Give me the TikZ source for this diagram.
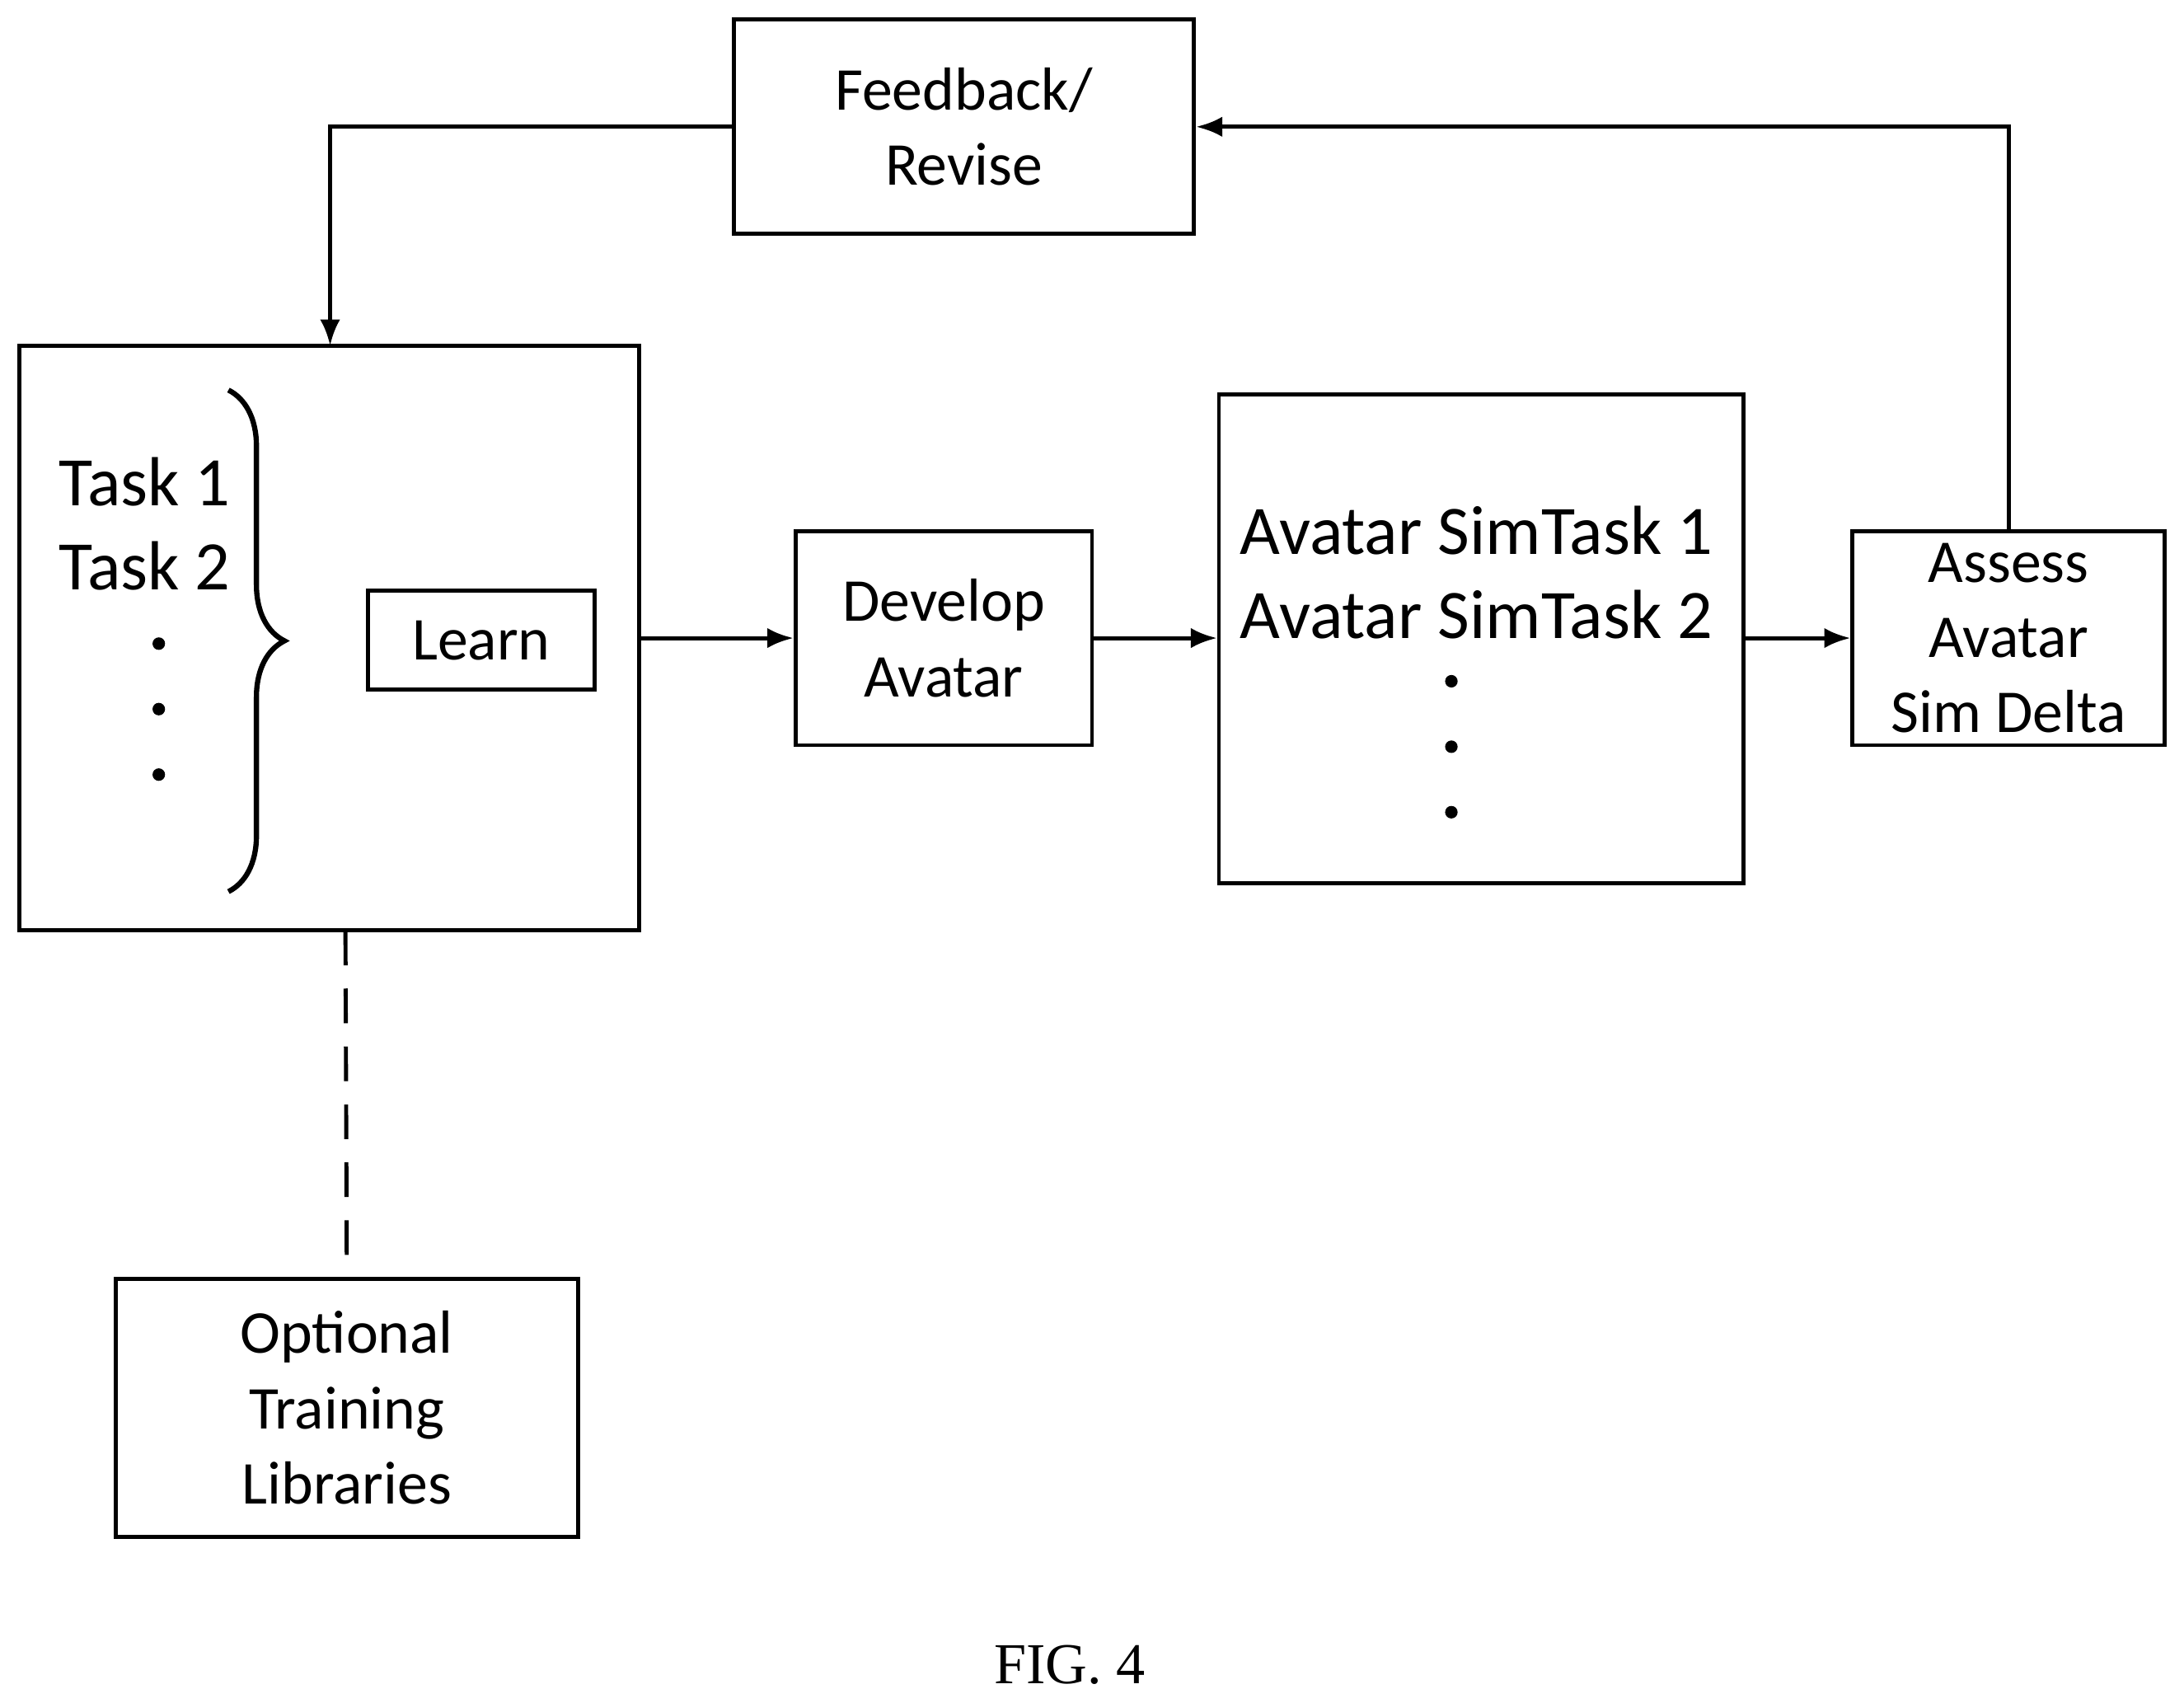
\documentclass[tikz,border=0pt]{standalone}
\usepackage{fontspec}
\setmainfont{Carlito}
\newfontfamily\figfont{Liberation Serif}
\usetikzlibrary{arrows.meta, decorations.pathreplacing}

\begin{document}
\begin{tikzpicture}[x=0.0169cm, y=-0.0169cm,
        box/.style={draw, line width=1.4pt, align=center, inner sep=0pt, font=\fontsize{21}{26}\selectfont},
        arrow/.style={-{Latex[length=9pt,width=7pt]}, line width=1.4pt}
    ]
    \useasboundingbox (0,0) rectangle (1568,1222);

    % Nodes
    \node [box, minimum width=5.59cm, minimum height=2.6cm] (feedback) at (692,91) {Feedback/\\Revise};
    \node [box, minimum width=7.52cm, minimum height=7.1cm] (tasks) at (236.5,458) {};
    \node [box, minimum width=2.75cm, minimum height=1.2cm] (learn) at (345.5,459.5) {Learn};
    \node [box, minimum width=3.6cm, minimum height=2.6cm] (develop) at (677.5,458) {Develop\\Avatar};
    \node [box, minimum width=6.37cm, minimum height=5.93cm] (sim) at (1063.5,458.5) {};
    \node [box, minimum width=3.79cm, minimum height=2.6cm] (assess) at (1442,458) {Assess\\Avatar\\Sim Delta};
    \node [box, minimum width=5.61cm, minimum height=3.13cm] (libs) at (249,1010.5) {Optional\\Training\\Libraries};

    % Texts inside the big boxes
    \node [font=\fontsize{24}{29}\selectfont, align=left] (tasklist) at (104,376) {Task 1\\Task 2};
    \node [font=\fontsize{24}{29}\selectfont, align=left] (simlist) at (1060,411) {Avatar SimTask 1\\Avatar SimTask 2};
    \foreach \y in {462,509,556} \fill (114,\y) circle (4.5);
    \foreach \y in {489,536,583} \fill (1042,\y) circle (4.5);
    \draw [line width=1.8pt, decorate, decoration={brace, amplitude=0.68cm}]
        (164,280) -- (164,640);

    % Arrows
    \draw [arrow] (tasks.east |- 0,458) -- (develop.west);
    \draw [arrow] (develop.east) -- (sim.west |- develop.east);
    \draw [arrow] (sim.east |- assess.west) -- (assess.west);
    \draw [arrow] (assess.north) -- (1442,91) -- (feedback.east);
    \draw [arrow] (feedback.west) -- (237,91) -- (237,248);
    \draw [line width=1.4pt, dash pattern=on 12pt off 8pt] (248,668) -- (libs.north);

    \node [font=\figfont\fontsize{20}{24}\selectfont] (fig) at (768,1195) {FIG. 4};
\end{tikzpicture}
\end{document}
